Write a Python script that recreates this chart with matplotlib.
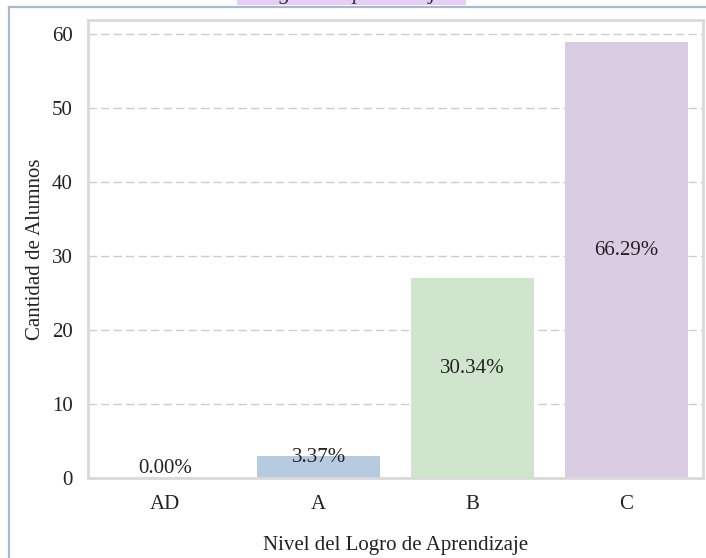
import matplotlib
matplotlib.use("Agg")
import matplotlib.pyplot as plt
from matplotlib.patches import Rectangle
from matplotlib.lines import Line2D

categories = ["AD", "A", "B", "C"]
counts = [0, 3, 27, 59]
percent_labels = ["0.00%", "3.37%", "30.34%", "66.29%"]
bar_colors = ["#fbb4ae", "#b7cbe0", "#d0e6cc", "#dacde3"]
y_ticks = [0, 10, 20, 30, 40, 50, 60]
title_text = "Logro de aprendizaje"

plt.rcParams['font.family'] = ['Liberation Serif', 'DejaVu Serif']

fig = plt.figure(figsize=(7.06, 5.58), dpi=100)
W, H = 706, 558

# document frame lines (screenshot context)
fig.add_artist(Line2D([9 / W, 9 / W], [0, 1 - 7 / H], transform=fig.transFigure,
                      color="#a9b9cf", lw=1.6))
fig.add_artist(Line2D([9 / W, 1], [1 - 7 / H, 1 - 7 / H], transform=fig.transFigure,
                      color="#a9b9cf", lw=1.6))
# highlighted caption cut at the top
fig.add_artist(Rectangle((237 / W, 1 - 5 / H), 229 / W, 5 / H, transform=fig.transFigure,
                         facecolor="#e4cff9", edgecolor="none"))
fig.text(351 / W, 1 + 1 / H, title_text, ha="center", va="baseline", fontsize=16,
         style="italic", color="#333333")

ax = fig.add_axes([88 / W, 80 / H, 615 / W, 458 / H])
x = range(len(categories))
ax.bar(x, counts, width=0.8, color=bar_colors, zorder=2)
for xi, h, lab in zip(x, counts, percent_labels):
    ax.text(xi, h / 2, lab, ha="center", va="bottom", fontsize=15, color="#222222", zorder=3)

ax.set_xlim(-0.5, 3.5)
ax.set_ylim(0, 61.95)
ax.set_xticks(list(x))
ax.set_xticklabels(categories, fontsize=15, color="#222222")
ax.set_yticks(y_ticks)
ax.set_yticklabels([str(t) for t in y_ticks], fontsize=15, color="#222222")
ax.tick_params(axis="y", length=0, pad=11)
ax.tick_params(axis="x", length=0, pad=12)
ax.yaxis.grid(True, linestyle=(0, (6, 3)), color="#cccccc", lw=1.0, zorder=0)
ax.set_axisbelow(True)
for s in ax.spines.values():
    s.set_color("#d9d9d9")
    s.set_linewidth(2)

ax.set_xlabel("Nivel del Logro de Aprendizaje", fontsize=15, color="#222222", labelpad=16)
ax.set_ylabel("Cantidad de Alumnos", fontsize=15, color="#222222", labelpad=5)

fig.savefig("out.png", dpi=100)
